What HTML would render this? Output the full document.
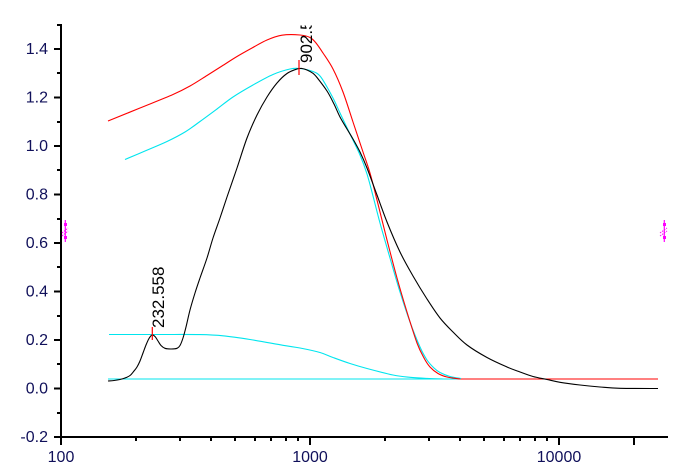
<!DOCTYPE html>
<html>
<head>
<meta charset="utf-8">
<style>
html,body{margin:0;padding:0;background:#fff;}
svg{display:block;}
.tl{font-family:"Liberation Sans",Arial,sans-serif;font-size:16px;fill:#10105a;}
.an{font-family:"Liberation Sans",Arial,sans-serif;font-size:17px;fill:#000;}
</style>
</head>
<body>
<svg id="chart" width="678" height="469" viewBox="0 0 678 469" xmlns="http://www.w3.org/2000/svg">
<defs>
<clipPath id="pc"><rect x="62" y="25.5" width="610" height="412"/></clipPath>
</defs>
<rect width="678" height="469" fill="#fff"/>

<!-- curves -->
<g fill="none" stroke-width="1.1" stroke-linejoin="round">
<polyline stroke="#00e5ee" points="108,379 461,379"/>
<polyline stroke="#ff0000" points="460,379 658,379"/>
<polyline class="sm" stroke="#00e5ee" points="109,334.5 160,334.5 200,334.6 223,335.8 250,339.5 283,345.3 300,348 320,352.5 333,357.5 350,363.5 367,368.5 393,375 410,377.3 427,378.4 445,379"/>
<polyline class="sm" stroke="#00e5ee" points="125,159.5 145,151 167,141.5 185,132 200,121.5 217,109 233,97 253,85 273,74.5 290,69 300,68.5 313,71.5 320,76 327,87 334,100 340,113 350,134 360,155 367,174 373,196 380,223 390,258 400,292 410,322 420,347 427,360 434,368 440,372.5 450,376.5 461,378.5"/>
<polyline class="sm" stroke="#ff0000" points="108,121 140,108 173,94.5 190,86 207,75.5 222,66 237,56.5 252,48 267,40 282,35.2 300,35 310,37.5 316,43 323,53 333,69 343,92 353,122 363,152 370,173 377,200 387,240 397,278 407,312 417,343 424,358 430,367 438,373.5 447,377 460,379"/>
<polyline class="sm" stroke="#000" points="108,381 114,380.5 120,379.5 125,378 130,375.5 134,371 137,367 140,361 143,353 146,345 149,338.5 152,335 155,336.5 158,341 161,345.5 165,348.3 171,349 177,348.3 180,345.5 183,338 186,327 190,310 195,293 200,278 207,258 213,238 220,218 227,197 237,168 247,138 257,115 267,97 277,83 287,73.5 297,69 302,68.5 307,70 313,73.3 317,77.5 327,91 334,104 340,117 347,129 353,139 360,152 367,168 377,195 387,222 400,252 413,276 427,299 440,318 453,332 467,345 487,357.5 507,367 520,372 533,376.5 547,379.5 560,382.3 580,385 600,387 620,388.3 658,388.5"/>
</g>

<!-- peak markers -->
<line x1="152.3" y1="327" x2="152.3" y2="340" stroke="#ff0000" stroke-width="1.2"/>
<line x1="299" y1="60" x2="299" y2="75" stroke="#ff0000" stroke-width="1.2"/>
<text class="an" transform="translate(164,328) rotate(-90)">232.558</text>
<g clip-path="url(#pc)">
<text class="an" transform="translate(312,63) rotate(-90)">902.5</text>
</g>

<!-- axes -->
<g stroke="#000" shape-rendering="crispEdges">
<line x1="61" y1="24" x2="61" y2="438" stroke-width="2"/>
<line x1="60" y1="437" x2="668" y2="437" stroke-width="2"/>
<g stroke-width="2">
<line x1="54" y1="49" x2="61" y2="49"/>
<line x1="54" y1="97.5" x2="61" y2="97.5"/>
<line x1="54" y1="146" x2="61" y2="146"/>
<line x1="54" y1="194.5" x2="61" y2="194.5"/>
<line x1="54" y1="243" x2="61" y2="243"/>
<line x1="54" y1="291.5" x2="61" y2="291.5"/>
<line x1="54" y1="340" x2="61" y2="340"/>
<line x1="54" y1="388.5" x2="61" y2="388.5"/>
<line x1="54" y1="437" x2="61" y2="437"/>
</g>
<g stroke-width="2">
<line x1="57" y1="25" x2="61" y2="25"/>
<line x1="57" y1="73" x2="61" y2="73"/>
<line x1="57" y1="122" x2="61" y2="122"/>
<line x1="57" y1="170" x2="61" y2="170"/>
<line x1="57" y1="219" x2="61" y2="219"/>
<line x1="57" y1="267" x2="61" y2="267"/>
<line x1="57" y1="316" x2="61" y2="316"/>
<line x1="57" y1="364" x2="61" y2="364"/>
<line x1="57" y1="413" x2="61" y2="413"/>
</g>
<g stroke-width="2">
<line x1="61" y1="437" x2="61" y2="445"/>
<line x1="310" y1="437" x2="310" y2="445"/>
<line x1="559" y1="437" x2="559" y2="445"/>
</g>
<g stroke-width="2">
<line x1="136" y1="437" x2="136" y2="441"/>
<line x1="180" y1="437" x2="180" y2="441"/>
<line x1="211" y1="437" x2="211" y2="441"/>
<line x1="235" y1="437" x2="235" y2="441"/>
<line x1="255" y1="437" x2="255" y2="441"/>
<line x1="271" y1="437" x2="271" y2="441"/>
<line x1="286" y1="437" x2="286" y2="441"/>
<line x1="298" y1="437" x2="298" y2="441"/>
<line x1="385" y1="437" x2="385" y2="441"/>
<line x1="429" y1="437" x2="429" y2="441"/>
<line x1="460" y1="437" x2="460" y2="441"/>
<line x1="484" y1="437" x2="484" y2="441"/>
<line x1="504" y1="437" x2="504" y2="441"/>
<line x1="520" y1="437" x2="520" y2="441"/>
<line x1="535" y1="437" x2="535" y2="441"/>
<line x1="547" y1="437" x2="547" y2="441"/>
<line x1="634" y1="437" x2="634" y2="445"/>
</g>
</g>

<g class="tl" text-anchor="end">
<text x="48" y="54">1.4</text>
<text x="48" y="102.5">1.2</text>
<text x="48" y="151">1.0</text>
<text x="48" y="199.5">0.8</text>
<text x="48" y="248">0.6</text>
<text x="48" y="296.5">0.4</text>
<text x="48" y="345">0.2</text>
<text x="48" y="393.5">0.0</text>
<text x="48" y="442">-0.2</text>
</g>
<g class="tl" text-anchor="middle">
<text x="61" y="462">100</text>
<text x="310" y="462">1000</text>
<text x="559" y="462">10000</text>
</g>

<g stroke="#ff00ff" fill="#ff00ff">
<line x1="65.3" y1="220" x2="65.3" y2="242" stroke-width="1.2"/>
<rect x="64" y="223" width="3" height="3" stroke="none"/>
<rect x="64" y="236" width="3" height="3" stroke="none"/>
<line x1="62" y1="233" x2="68" y2="228" stroke-width="1" stroke-dasharray="1.5,1"/>
<line x1="62" y1="236" x2="68" y2="231" stroke-width="1" stroke-dasharray="1.5,1"/>
<line x1="664.3" y1="220" x2="664.3" y2="242" stroke-width="1.2"/>
<rect x="663" y="223" width="3" height="3" stroke="none"/>
<rect x="663" y="236" width="3" height="3" stroke="none"/>
<line x1="660" y1="233" x2="667" y2="228" stroke-width="1" stroke-dasharray="1.5,1"/>
<line x1="660" y1="236" x2="667" y2="231" stroke-width="1" stroke-dasharray="1.5,1"/>
</g>
</svg>
<script>
(function(){
  var NS="http://www.w3.org/2000/svg";
  var pls=document.querySelectorAll("polyline.sm");
  for(var k=0;k<pls.length;k++){
    var pl=pls[k];
    var raw=pl.getAttribute("points").trim().split(/\s+/);
    var p=[];
    for(var i=0;i<raw.length;i++){var a=raw[i].split(",");p.push([+a[0],+a[1]]);}
    var d="M"+p[0][0]+","+p[0][1];
    for(var i=0;i<p.length-1;i++){
      var p0=p[i>0?i-1:0],p1=p[i],p2=p[i+1],p3=p[i+2<p.length?i+2:p.length-1];
      var c1x=p1[0]+(p2[0]-p0[0])/6,c1y=p1[1]+(p2[1]-p0[1])/6;
      var c2x=p2[0]-(p3[0]-p1[0])/6,c2y=p2[1]-(p3[1]-p1[1])/6;
      d+=" C"+c1x.toFixed(2)+","+c1y.toFixed(2)+" "+c2x.toFixed(2)+","+c2y.toFixed(2)+" "+p2[0]+","+p2[1];
    }
    var path=document.createElementNS(NS,"path");
    path.setAttribute("d",d);
    path.setAttribute("stroke",pl.getAttribute("stroke"));
    path.setAttribute("fill","none");
    pl.parentNode.replaceChild(path,pl);
  }
})();
</script>
</body>
</html>
